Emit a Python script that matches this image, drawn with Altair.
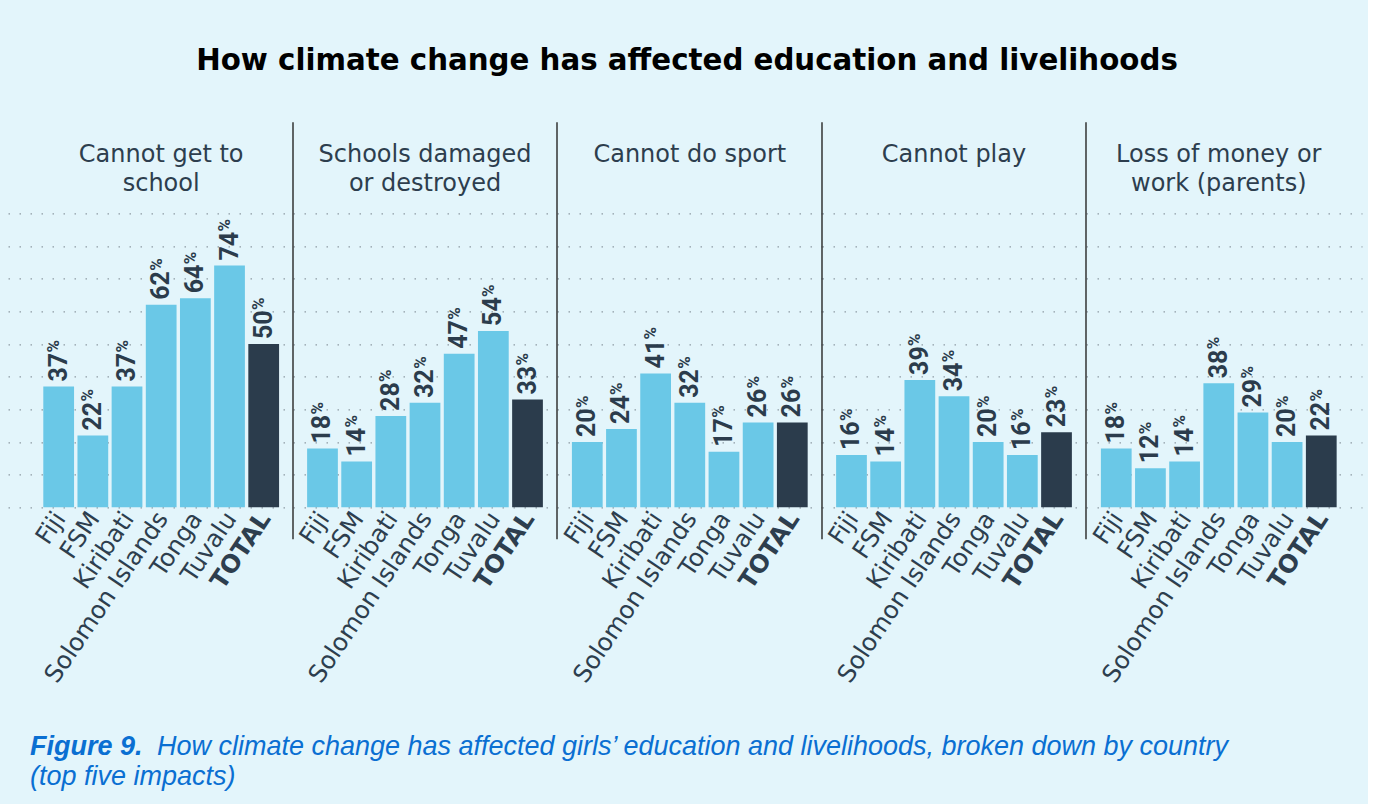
import altair as alt
import pandas as pd

# ---------------- data ----------------
countries = ["Fiji", "FSM", "Kiribati", "Solomon Islands", "Tonga", "Tuvalu", "TOTAL"]
panel_titles = [
    ["Cannot get to", "school"],
    ["Schools damaged", "or destroyed"],
    ["Cannot do sport"],
    ["Cannot play"],
    ["Loss of money or", "work (parents)"],
]
cannot_get_to_school = [37, 22, 37, 62, 64, 74, 50]
schools_damaged = [18, 14, 28, 32, 47, 54, 33]
cannot_do_sport = [20, 24, 41, 32, 17, 26, 26]
cannot_play = [16, 14, 39, 34, 20, 16, 23]
loss_of_money_or_work = [18, 12, 14, 38, 29, 20, 22]
series = [cannot_get_to_school, schools_damaged, cannot_do_sport, cannot_play, loss_of_money_or_work]
grid_values = [0, 10, 20, 30, 40, 50, 60, 70, 80, 90]

main_title = "How climate change has affected education and livelihoods"
caption_bold = "Figure 9."
caption_rest = "How climate change has affected girls\u2019 education and livelihoods, broken down by country"
caption_line2 = "(top five impacts)"

# ---------------- style ----------------
BG = "#e3f5fb"
LIGHT = "#6ac8e7"
DARK = "#2b3c4c"
TEXT = "#2d3e4e"
BLUE = "#0a6fd2"
FONT = "DejaVu Sans"
NUM_FONT = "Roboto"
CAP_FONT = "Liberation Sans"

panel_w = [285, 264, 265, 264, 276]
aligns = [0.717, 0.5, 0.51, 0.5, 0.37]
H = 294
TOP = 214  # page y of the plot top
STEP = 34.17
PI = 0.1
span = STEP * (len(countries) - PI)

one = pd.DataFrame({"k": [0]})

panels = []
for i, (vals, lines) in enumerate(zip(series, panel_titles)):
    df = pd.DataFrame({"country": countries, "value": vals})
    w = panel_w[i]
    po = (w / STEP - (len(countries) - PI)) / 2
    xscale = alt.Scale(domain=countries, paddingInner=PI, paddingOuter=po, align=aligns[i])
    xenc = alt.X(
        "country:N",
        sort=countries,
        scale=xscale,
        axis=alt.Axis(
            title=None, domain=False, ticks=False, labelAngle=-56, labelAlign="right",
            labelBaseline="middle", labelPadding=7, labelOffset=2, labelFont=FONT, labelFontSize=24.5,
            labelColor=TEXT, labelOverlap=False, labelLimit=400,
            labelFontWeight={"condition": {"test": "datum.value === 'TOTAL'", "value": "bold"}, "value": "normal"},
        ),
    )
    yenc = alt.Y(
        "value:Q",
        scale=alt.Scale(domain=[0, 90], nice=False, zero=True),
        axis=alt.Axis(
            title=None, domain=False, ticks=False, labels=False, grid=True, values=grid_values,
            tickCount=10, gridColor="#8e9ba4", gridDash=[1.5, 9.5], gridWidth=1.3,
        ),
    )
    base = alt.Chart(df).encode(x=xenc, y=yenc)
    bars = base.mark_bar().encode(
        color=alt.condition("datum.country === 'TOTAL'", alt.value(DARK), alt.value(LIGHT)),
    )
    nums = base.mark_text(
        angle=270, align="left", baseline="middle", dx=5, font=NUM_FONT, fontSize=25,
        fontWeight="bold", color=DARK,
    ).encode(text=alt.Text("value:Q", format="d"))
    pcts = base.mark_text(
        angle=270, align="left", baseline="middle", dx=34, dy=-4.5, font=NUM_FONT, fontSize=17,
        fontWeight="bold", color=DARK,
    ).encode(text=alt.value("%"))
    layers = [bars, nums, pcts]

    start = (w - span) * aligns[i]
    cx = start + span / 2
    for j, line in enumerate(lines):
        layers.append(
            alt.Chart(one).mark_text(
                text=line, font=FONT, fontSize=24, color=TEXT, align="center", baseline="middle",
            ).encode(x=alt.value(cx), y=alt.value(156 - TOP + 29 * j))
        )
    if i > 0:
        layers.append(
            alt.Chart(one).mark_rule(color="#333333", strokeWidth=1.5).encode(
                x=alt.value(0), y=alt.value(123 - TOP), y2=alt.value(540 - TOP)
            )
        )
    if i == 2:
        layers.append(
            alt.Chart(one).mark_text(
                text=main_title, font=FONT, fontSize=29.3, fontWeight="bold", color="#000000",
                align="center", baseline="middle",
            ).encode(x=alt.value(687 - 557), y=alt.value(62 - TOP))
        )
    if i == 0:
        layers.append(
            alt.Chart(one).mark_text(
                text=caption_bold, font=CAP_FONT, fontSize=27, fontWeight="bold",
                fontStyle="italic", color=BLUE, align="left", baseline="middle",
            ).encode(x=alt.value(30 - 8), y=alt.value(748 - TOP))
        )
        layers.append(
            alt.Chart(one).mark_text(
                text=caption_rest, font=CAP_FONT, fontSize=27,
                fontStyle="italic", color=BLUE, align="left", baseline="middle",
            ).encode(x=alt.value(157 - 8), y=alt.value(748 - TOP))
        )
        layers.append(
            alt.Chart(one).mark_text(
                text=caption_line2, font=CAP_FONT, fontSize=27,
                fontStyle="italic", color=BLUE, align="left", baseline="middle",
            ).encode(x=alt.value(30 - 8), y=alt.value(778 - TOP))
        )
    panels.append(alt.layer(*layers).properties(width=w, height=H))

chart = (
    alt.hconcat(*panels, spacing=0, bounds="flush")
    .properties(background=BG, padding={"left": 8, "top": 47.35, "right": 6, "bottom": 14})
    .configure_view(stroke=None)
    .configure_concat(spacing=0)
)

chart.save("out.html", embed_options={"renderer": "svg", "actions": False})
